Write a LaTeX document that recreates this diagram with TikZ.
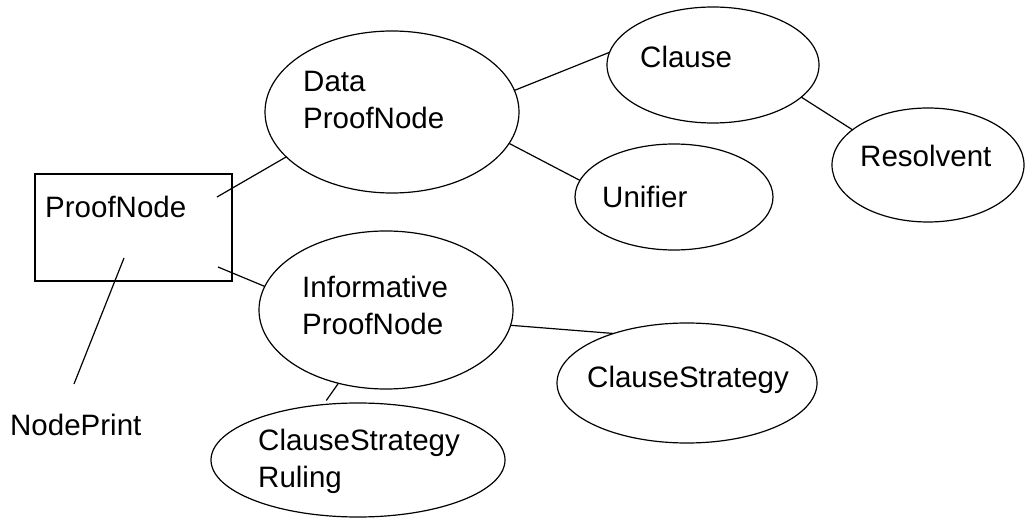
\documentclass[tikz,border=0pt]{standalone}
\usepackage{fontspec}
\setmainfont{Liberation Sans}
\usetikzlibrary{shapes.geometric}

\tikzset{
  oval/.style={draw, ellipse, line width=1.2pt, inner sep=0pt, outer sep=0pt},
  classbox/.style={draw, rectangle, line width=1.3pt, inner sep=0pt, outer sep=0pt},
  lbl/.style={anchor=base west, inner sep=0pt, font=\fontsize{29.5pt}{37pt}\selectfont},
  link/.style={line width=1.2pt}
}

\begin{document}
\begin{tikzpicture}[x=1pt, y=-1pt]
  \useasboundingbox (0,0) rectangle (1025,518);

  % class box and object ovals
  \node[classbox, minimum width=197pt, minimum height=107pt] (pn) at (133.5,227.5) {};
  \node[oval, minimum width=254pt, minimum height=162pt] (data) at (392,112) {};
  \node[oval, minimum width=212pt, minimum height=116pt] (clause) at (713,65) {};
  \node[oval, minimum width=192pt, minimum height=114pt] (resolvent) at (928,165) {};
  \node[oval, minimum width=198pt, minimum height=106pt] (unifier) at (674,197) {};
  \node[oval, minimum width=254pt, minimum height=158pt] (info) at (386,310) {};
  \node[oval, minimum width=260pt, minimum height=120pt] (cstrat) at (687,383) {};
  \node[oval, minimum width=294pt, minimum height=114pt] (ruling) at (358,460) {};

  % labels
  \node[lbl] (tpn) at (45,218) {ProofNode};
  \node[lbl] (tnp) at (10,435) {NodePrint};
  \node[lbl] (tdata1) at (303,92) {Data};
  \node[lbl] (tdata2) at (303,129) {ProofNode};
  \node[lbl] (tclause) at (640,68) {Clause};
  \node[lbl] (tres) at (860,167) {Resolvent};
  \node[lbl] (tuni) at (602,208) {Unifier};
  \node[lbl] (tinfo1) at (302,298) {Informative};
  \node[lbl] (tinfo2) at (302,335) {ProofNode};
  \node[lbl] (tcs) at (587,388) {ClauseStrategy};
  \node[lbl] (trul1) at (258,450) {ClauseStrategy};
  \node[lbl] (trul2) at (258,487) {Ruling};

  % free ends of the links that start inside the box
  \coordinate (pnA) at (217,197);
  \coordinate (pnB) at (218,267);
  \coordinate (pnC) at (124,258);
  \coordinate (npTop) at (74,384);

  % links
  \draw[link] (pnA) -- (data.203);
  \draw[link] (pnB) -- (info.169.5);
  \draw[link] (pnC) -- (npTop);
  \draw[link] (data.10.4) -- (clause.173.5);
  \draw[link] (data.-15) -- (unifier.170);
  \draw[link] (clause.-20.8) -- (resolvent.155);
  \draw[link] (info.-7.7) -- (cstrat.146);
  \draw[link, shorten >=5pt] (info.237.6) -- (ruling.122.6);
\end{tikzpicture}
\end{document}
